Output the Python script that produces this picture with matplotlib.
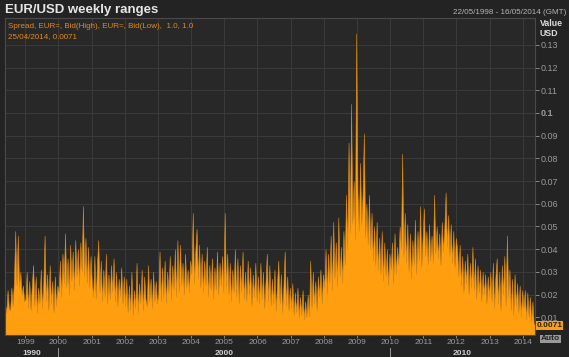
import numpy as np
import pandas as pd
import matplotlib
matplotlib.use("Agg")
import matplotlib.pyplot as plt
import matplotlib.transforms as mtransforms

# weekly high-low range of EUR/USD, sampled every ~2 weeks, in pips (1e-4 USD)
r1998 = [160, 120, 220, 140, 130, 230, 150, 260, 480, 240, 460, 230, 300, 200, 240, 170]
r1999 = [180, 300, 140, 260, 130, 240, 330, 150, 280, 120, 230, 160, 310, 140, 250, 460,
         170, 290, 130, 330, 160, 260, 120, 280, 150, 240]
r2000 = [210, 350, 190, 380, 250, 470, 230, 360, 200, 420, 260, 390, 220, 440, 280, 400,
         240, 430, 300, 590, 280, 450, 250, 410, 230, 370]
r2001 = [250, 190, 370, 180, 330, 440, 210, 350, 170, 310, 190, 380, 160, 290, 180, 330,
         210, 360, 170, 300, 150, 270, 190, 320, 160, 280]
r2002 = [150, 270, 120, 240, 130, 300, 110, 220, 140, 340, 120, 250, 160, 310, 130, 280,
         180, 150, 330, 170, 270, 140, 300, 170, 260, 160]
r2003 = [200, 390, 170, 320, 190, 350, 160, 300, 210, 370, 180, 330, 220, 400, 190, 440,
         210, 420, 240, 340, 200, 380, 230, 310, 210, 350]
r2004 = [290, 560, 250, 390, 490, 270, 420, 230, 380, 210, 350, 240, 410, 190, 330, 220,
         360, 180, 320, 220, 390, 200, 340, 240, 370, 210]
r2005 = [560, 230, 380, 200, 340, 170, 310, 210, 400, 190, 360, 160, 330, 210, 390, 180,
         300, 170, 350, 200, 320, 150, 290, 190, 340, 170]
r2006 = [280, 160, 340, 180, 300, 140, 260, 380, 170, 330, 150, 270, 160, 310, 130, 250,
         350, 160, 290, 120, 240, 390, 150, 280, 130, 230]
r2007 = [140, 250, 110, 210, 120, 230, 100, 190, 110, 220, 90, 170, 100, 200, 100, 350,
         140, 300, 160, 260, 130, 280, 190, 310, 160, 290]
r2008 = [230, 400, 200, 380, 250, 460, 220, 520, 270, 430, 240, 540, 280, 410, 250, 480,
         330, 640, 400, 870, 470, 1040, 510, 700, 440, 1350]
r2009 = [650, 480, 780, 510, 640, 910, 450, 600, 420, 640, 400, 560, 350, 500, 330, 520,
         310, 450, 290, 480, 260, 430, 280, 400, 240, 380]
r2010 = [310, 430, 250, 470, 290, 410, 330, 500, 400, 820, 370, 560, 340, 510, 300, 470,
         270, 440, 330, 530, 290, 480, 350, 590, 320, 450]
r2011 = [580, 370, 480, 330, 510, 350, 460, 340, 640, 380, 500, 360, 470, 330, 520, 390,
         490, 650, 410, 550, 370, 510, 340, 480, 320, 450]
r2012 = [400, 280, 420, 240, 370, 210, 350, 250, 380, 200, 340, 230, 410, 220, 360, 180,
         330, 210, 310, 170, 300, 200, 290, 160, 280, 190]
r2013 = [300, 170, 340, 140, 280, 360, 160, 300, 130, 330, 200, 370, 150, 460, 190, 310,
         130, 270, 110, 290, 150, 250, 120, 240, 100, 220]
r2014 = [140, 220, 90, 210, 100, 190, 80, 170, 70, 71]

pips = (r1998 + r1999 + r2000 + r2001 + r2002 + r2003 + r2004 + r2005 + r2006
        + r2007 + r2008 + r2009 + r2010 + r2011 + r2012 + r2013 + r2014)
spread = np.array(pips) / 10000.0
start, end = "1998-05-22", "2014-05-16"
dates = pd.date_range(start, end, periods=len(spread))

years = list(range(1999, 2015))
yticks = [0.01, 0.02, 0.03, 0.04, 0.05, 0.06, 0.07, 0.08, 0.09, 0.1, 0.11, 0.12, 0.13]
decades = [("1990", "1998-05-22", "2000-01-01"), ("2000", "2000-01-01", "2010-01-01"),
           ("2010", "2010-01-01", "2014-05-16")]

plt.rcParams['font.family'] = ['Liberation Sans', 'DejaVu Sans']

W, H = 569, 357
fig = plt.figure(figsize=(W / 100, H / 100), dpi=100, facecolor="#232323")
ax = fig.add_axes([5 / W, (H - 335) / H, 530 / W, (335 - 18) / H], facecolor="#282828")

orange = "#ff9f0f"
ax.fill_between(dates, 0, spread, color=orange, linewidth=0.4, edgecolor="#d98a1a")

ax.set_xlim(pd.Timestamp(start), pd.Timestamp(end))
ax.set_ylim(0.0022, 0.1418)

ax.yaxis.tick_right()
ax.set_yticks(yticks)
ax.set_yticklabels(["%g" % t for t in yticks])
for lab in ax.get_yticklabels():
    if lab.get_text() == "0.1":
        lab.set_fontweight("bold")
        lab.set_color("#dddddd")
ax.tick_params(axis="y", colors="#9a9a9a", labelsize=6.5, length=3, width=0.6, pad=1)

ax.set_xticks([pd.Timestamp("%d-01-01" % y) for y in years])
ax.set_xticklabels([str(y) for y in years])
ax.tick_params(axis="x", colors="#9a9a9a", labelsize=6.0, length=2, width=0.6, pad=1.0)

ax.grid(True, color="#3a3a3a", linewidth=0.8)
ax.set_axisbelow(True)
for s in ax.spines.values():
    s.set_color("#4a4a4a")
    s.set_linewidth(0.8)

# decade row below the year labels
tr = mtransforms.blended_transform_factory(ax.transData, ax.transAxes)
for name, a, b in decades:
    mid = pd.Timestamp(a) + (pd.Timestamp(b) - pd.Timestamp(a)) / 2
    ax.text(mid, -0.058, name, transform=tr, ha="center", va="center",
            fontsize=6.0, fontweight="bold", color="#cfcfcf")
for d in ["2000-01-01", "2010-01-01"]:
    ax.plot([pd.Timestamp(d)] * 2, [-0.042, -0.08], transform=tr, color="#9a9a9a",
            linewidth=0.7, clip_on=False)

# header texts
fig.text(5 / W, 1 - 10 / H, "EUR/USD weekly ranges", fontsize=9.5, fontweight="bold",
         color="#e6e6e6", va="center", ha="left")
fig.text(566 / W, 1 - 13 / H, "22/05/1998 - 16/05/2014 (GMT)", fontsize=5.8,
         color="#b5b5b5", va="center", ha="right")
fig.text(8 / W, 1 - 27 / H, "Spread, EUR=, Bid(High), EUR=, Bid(Low),  1.0, 1.0",
         fontsize=5.8, color="#e08a1e", va="center", ha="left")
fig.text(8 / W, 1 - 37 / H, "25/04/2014, 0.0071", fontsize=5.8, color="#e08a1e",
         va="center", ha="left")
fig.text(540 / W, 1 - 24 / H, "Value", fontsize=6.3, fontweight="bold", color="#dddddd",
         va="center", ha="left")
fig.text(540 / W, 1 - 34 / H, "USD", fontsize=6.3, fontweight="bold", color="#dddddd",
         va="center", ha="left")

# current-value tag and Auto box on the value axis
ax.text(1.003, 0.0064, "0.0071",
        transform=mtransforms.blended_transform_factory(ax.transAxes, ax.transData),
        fontsize=6.0, fontweight="bold", color="#222222", va="center", ha="left",
        zorder=5, bbox=dict(boxstyle="square,pad=0.1", fc=orange, ec="none"))
fig.text(541 / W, 1 - 339 / H, "Auto", fontsize=6.0, fontweight="bold", color="#222222",
         va="center", ha="left", bbox=dict(boxstyle="square,pad=0.1", fc="#9a9a9a", ec="none"))

fig.savefig("out.png", dpi=100, facecolor=fig.get_facecolor())
